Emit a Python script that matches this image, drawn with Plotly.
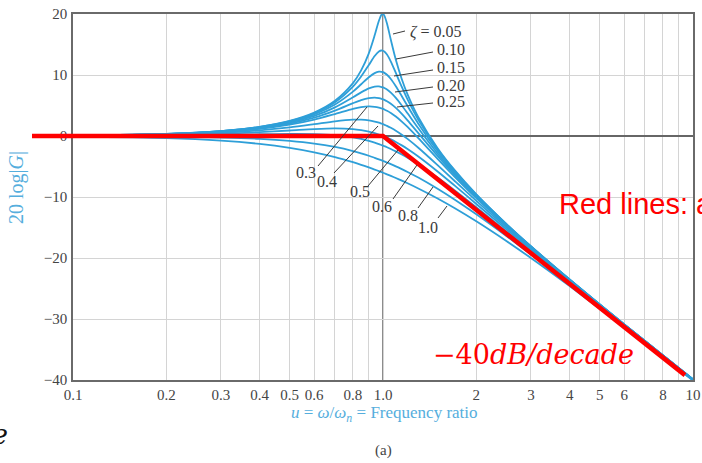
import plotly.graph_objects as go

# ---------------- data ----------------
u = [0.1, 0.2, 0.3, 0.4, 0.5, 0.6, 0.7, 0.8, 0.85, 0.9, 0.94, 0.97, 0.99, 1.0,
     1.01, 1.03, 1.06, 1.1, 1.15, 1.2, 1.3, 1.5, 1.7, 2.0, 2.5, 3.0, 4.0, 6.0, 10.0]

db_z005 = [0.09, 0.35, 0.81, 1.50, 2.48, 3.84, 5.77, 8.66, 10.75, 13.55, 16.50, 18.89, 19.92, 20.00,
           19.74, 18.44, 15.77, 12.50, 9.31, 6.82, 3.07, -2.00, -5.56, -9.56, -14.41, -18.07, -23.52, -30.88, -39.91]
db_z010 = [0.09, 0.35, 0.80, 1.48, 2.42, 3.73, 5.53, 8.09, 9.75, 11.64, 13.11, 13.86, 14.02, 13.98,
           13.85, 13.36, 12.20, 10.34, 8.04, 6.00, 2.65, -2.18, -5.67, -9.62, -14.44, -18.09, -23.53, -30.89, -39.91]
db_z015 = [0.08, 0.34, 0.78, 1.43, 2.33, 3.55, 5.17, 7.28, 8.48, 9.63, 10.31, 10.55, 10.53, 10.46,
           10.35, 10.04, 9.34, 8.15, 6.52, 4.91, 2.02, -2.47, -5.83, -9.71, -14.49, -18.12, -23.55, -30.89, -39.92]
db_z020 = [0.08, 0.32, 0.74, 1.36, 2.20, 3.30, 4.70, 6.35, 7.15, 7.81, 8.10, 8.12, 8.03, 7.96,
           7.86, 7.61, 7.10, 6.24, 5.01, 3.73, 1.27, -2.84, -6.06, -9.84, -14.56, -18.16, -23.57, -30.90, -39.92]
db_z025 = [0.08, 0.31, 0.70, 1.27, 2.04, 3.01, 4.17, 5.38, 5.89, 6.22, 6.30, 6.22, 6.10, 6.02,
           5.93, 5.70, 5.28, 4.60, 3.62, 2.57, 0.46, -3.27, -6.33, -10.00, -14.64, -18.21, -23.60, -30.91, -39.92]
db_z030 = [0.07, 0.29, 0.65, 1.17, 1.85, 2.68, 3.60, 4.44, 4.72, 4.85, 4.79, 4.66, 4.52, 4.44,
           4.35, 4.14, 3.77, 3.19, 2.36, 1.48, -0.35, -3.75, -6.64, -10.19, -14.74, -18.28, -23.63, -30.93, -39.93]
db_z040 = [0.06, 0.24, 0.53, 0.93, 1.41, 1.94, 2.41, 2.68, 2.68, 2.56, 2.37, 2.18, 2.02, 1.94,
           1.85, 1.66, 1.34, 0.87, 0.22, -0.47, -1.92, -4.77, -7.34, -10.63, -14.99, -18.44, -23.72, -30.96, -39.94]
db_z050 = [0.04, 0.17, 0.37, 0.63, 0.90, 1.14, 1.25, 1.14, 0.97, 0.73, 0.47, 0.25, 0.09, 0.00,
           -0.09, -0.27, -0.56, -0.98, -1.54, -2.13, -3.36, -5.81, -8.10, -11.14, -15.29, -18.63, -23.82, -31.01, -39.96]
db_z060 = [0.02, 0.09, 0.19, 0.29, 0.35, 0.32, 0.15, -0.22, -0.48, -0.80, -1.09, -1.33, -1.50, -1.58,
           -1.67, -1.85, -2.13, -2.52, -3.03, -3.55, -4.64, -6.81, -8.88, -11.69, -15.63, -18.86, -23.95, -31.06, -39.98]
db_z080 = [-0.02, -0.10, -0.25, -0.47, -0.80, -1.24, -1.80, -2.47, -2.85, -3.24, -3.57, -3.82, -4.00, -4.08,
           -4.17, -4.35, -4.61, -4.97, -5.43, -5.89, -6.81, -8.65, -10.40, -12.84, -16.39, -19.40, -24.25, -31.20, -40.03]
db_z100 = [-0.09, -0.34, -0.75, -1.29, -1.94, -2.67, -3.46, -4.30, -4.72, -5.15, -5.50, -5.76, -5.93, -6.02,
           -6.11, -6.28, -6.54, -6.89, -7.32, -7.75, -8.60, -10.24, -11.80, -13.98, -17.21, -20.00, -24.61, -31.36, -40.09]

zeta_labels = ["0.05", "0.10", "0.15", "0.20", "0.25", "0.3", "0.4", "0.5", "0.6", "0.8", "1.0"]
curves = [db_z005, db_z010, db_z015, db_z020, db_z025, db_z030, db_z040, db_z050, db_z060, db_z080, db_z100]

# straight-line asymptotes (red)
asym_u = [0.1, 1.0, 9.42]
asym_db = [0, 0, -39.2]

x_tickvals = [0.1, 0.2, 0.3, 0.4, 0.5, 0.6, 0.7, 0.8, 0.9, 1, 2, 3, 4, 5, 6, 7, 8, 9, 10]
x_ticktext = ["0.1", "0.2", "0.3", "0.4", "0.5", "0.6", "", "0.8", "", "1.0",
              "2", "3", "4", "5", "6", "", "8", "", "10"]
y_tickvals = [-40, -30, -20, -10, 0, 10, 20]
y_ticktext = ["\u221240", "\u221230", "\u221220", "\u221210", "0", "10", "20"]

# ---------------- layout helpers ----------------
W, H = 702, 463
L, R, T, B = 73, 9, 14, 83
PW, PH = W - L - R, H - T - B


def px(x, y):
    """pixel position -> paper coordinates"""
    return (x - L) / PW, (H - B - y) / PH


CURVE = "#2E9FD8"
LABEL = "#3a3a3a"
TITLE_BLUE = "#55AEDD"
SERIF = "Liberation Serif, Times New Roman, serif"

fig = go.Figure()
for lab, ys in zip(zeta_labels, curves):
    fig.add_trace(go.Scatter(x=u, y=ys, mode="lines", name=lab,
                             line=dict(color=CURVE, width=1.8, shape="spline", smoothing=0.8),
                             hoverinfo="skip", showlegend=False))

fig.add_trace(go.Scatter(x=asym_u, y=asym_db, mode="lines",
                         line=dict(color="#FF0000", width=4.5),
                         hoverinfo="skip", showlegend=False))

shapes = []
# dark reference line at u = 1
shapes.append(dict(type="line", xref="x", yref="paper", x0=1, x1=1, y0=0, y1=1,
                   line=dict(color="#666666", width=1.5), layer="below"))
# red asymptote continuing left past the axis
x0p, _ = px(32, 0)
shapes.append(dict(type="line", xref="paper", yref="y", x0=x0p, x1=0, y0=0, y1=0,
                   line=dict(color="#FF0000", width=4.5), layer="above"))

# leader lines for zeta labels (pixel positions)
leaders = [
    (393, 34, 405, 31),
    (396, 59, 433, 52),
    (394, 76, 433, 70),
    (395, 92, 433, 87),
    (397, 107, 433, 103),
    (318, 166, 367, 107),
    (334, 173, 378, 126),
    (368, 186, 398, 150),
    (393, 199, 417, 165),
    (418, 208, 433, 187),
    (438, 218, 447, 206),
]
for (xa, ya, xb, yb) in leaders:
    pa = px(xa, ya)
    pb = px(xb, yb)
    shapes.append(dict(type="line", xref="paper", yref="paper",
                       x0=pa[0], y0=pa[1], x1=pb[0], y1=pb[1],
                       line=dict(color=LABEL, width=1), layer="above"))

annotations = []
# zeta labels (upper group: left aligned)
upper = [("<i>\u03b6</i> = 0.05", 408, 32), ("0.10", 435, 49), ("0.15", 435, 67),
         ("0.20", 435, 85), ("0.25", 435, 101)]
for txt, x, y in upper:
    p = px(x, y)
    annotations.append(dict(text=txt, x=p[0], y=p[1], xref="paper", yref="paper",
                            xanchor="left", yanchor="middle", showarrow=False,
                            font=dict(family=SERIF, size=16, color=LABEL)))
lower = [("0.3", 306, 172), ("0.4", 327, 182), ("0.5", 360, 191), ("0.6", 382, 206),
         ("0.8", 408, 215), ("1.0", 428, 227)]
for txt, x, y in lower:
    p = px(x, y)
    annotations.append(dict(text=txt, x=p[0], y=p[1], xref="paper", yref="paper",
                            xanchor="center", yanchor="middle", showarrow=False,
                            font=dict(family=SERIF, size=16, color=LABEL)))

# axis titles
p = px(384, 414)
annotations.append(dict(text="<i>u</i> = <i>\u03c9</i>/<i>\u03c9</i><sub><i>n</i></sub> = Frequency ratio",
                        x=p[0], y=p[1], xref="paper", yref="paper", xanchor="center", yanchor="middle",
                        showarrow=False, font=dict(family=SERIF, size=17, color=TITLE_BLUE)))
p = px(16, 188)
annotations.append(dict(text="20 log|<i>G</i>|", x=p[0], y=p[1], xref="paper", yref="paper",
                        xanchor="center", yanchor="middle", textangle=-90, showarrow=False,
                        font=dict(family=SERIF, size=20, color=TITLE_BLUE)))
p = px(383, 450)
annotations.append(dict(text="(a)", x=p[0], y=p[1], xref="paper", yref="paper",
                        xanchor="center", yanchor="middle", showarrow=False,
                        font=dict(family=SERIF, size=15, color="#444444")))

# red overlay texts
p = px(557, 204)
annotations.append(dict(text="Red lines: asymptotes", x=p[0], y=p[1], xref="paper", yref="paper",
                        xanchor="left", yanchor="middle", showarrow=False,
                        font=dict(family="Liberation Sans, Arial, sans-serif", size=29, color="#FF0000")))
p = px(431, 354)
annotations.append(dict(text="\u221240<i>dB/decade</i>", x=p[0], y=p[1], xref="paper", yref="paper",
                        xanchor="left", yanchor="middle", showarrow=False,
                        font=dict(family="DejaVu Serif, serif", size=27, color="#FF0000")))
p = px(10, 434)
annotations.append(dict(text="<i>e</i>", x=p[0], y=p[1], xref="paper", yref="paper",
                        xanchor="right", yanchor="middle", showarrow=False,
                        font=dict(family="DejaVu Serif, serif", size=27, color="#111111")))

fig.update_layout(
    width=W, height=H, autosize=False,
    margin=dict(l=L, r=R, t=T, b=B, pad=0, autoexpand=False),
    paper_bgcolor="white", plot_bgcolor="white",
    shapes=shapes, annotations=annotations,
    showlegend=False,
)
fig.update_xaxes(type="log", range=[-1, 1], tickvals=x_tickvals, ticktext=x_ticktext,
                 automargin=False,
                 showgrid=True, gridcolor="#D4D4D4", gridwidth=1,
                 showline=True, linecolor="#6a6a6a", linewidth=1.5, mirror=True,
                 ticks="", ticklabelstandoff=0,
                 tickfont=dict(family=SERIF, size=15, color="#444444"), zeroline=False)
fig.update_yaxes(range=[-40, 20], tickvals=y_tickvals, ticktext=y_ticktext,
                 automargin=False,
                 showgrid=True, gridcolor="#D4D4D4", gridwidth=1,
                 showline=True, linecolor="#6a6a6a", linewidth=1.5, mirror=True,
                 zeroline=True, zerolinecolor="#666666", zerolinewidth=1.5,
                 ticks="", ticklabelstandoff=1,
                 tickfont=dict(family=SERIF, size=15, color="#444444"))

fig.write_html("out.html",
               config={"displayModeBar": False, "responsive": False},
               post_script="document.body.style.margin='0';document.body.style.overflow='hidden';")
